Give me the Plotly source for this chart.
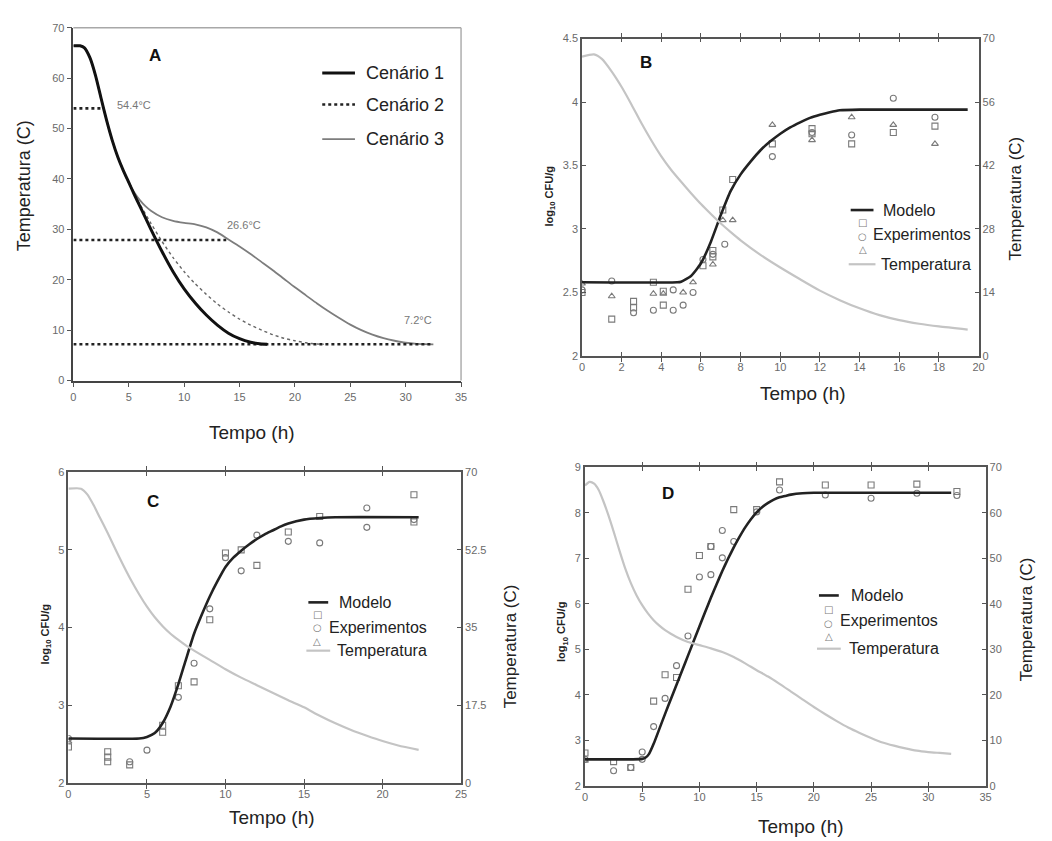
import plotly.graph_objects as go

W, H = 1052, 841


def px(x):
    return x / W


def py(y):
    return 1 - y / H


# ---------------- Panel A data ----------------
a_t1 = [0, 0.6, 1.0, 1.5, 2.0, 2.5, 3.0, 3.5, 4.0, 4.5, 5.0, 5.5, 6.0, 7.0, 8.0, 9.0,
        10.0, 11.0, 12.0, 13.0, 14.0, 15.0, 16.0, 17.0, 17.5]
a_c1 = [66.4, 66.4, 66.0, 64.0, 60.5, 56.0, 51.6, 47.7, 44.4, 41.7, 39.3, 36.9, 34.6,
        30.0, 25.6, 21.6, 18.2, 15.4, 13.0, 11.0, 9.4, 8.3, 7.6, 7.25, 7.2]

a_t3 = [0, 0.6, 1.0, 1.5, 2.0, 2.5, 3.0, 3.5, 4.0, 4.5, 5.0, 5.5, 6.0, 6.5, 7.0, 8.0,
        9.0, 10.0, 11.0, 12.0, 13.0, 14.0, 15.0, 16.0, 17.0, 18.0, 19.0, 20.0, 21.0,
        22.0, 23.0, 24.0, 25.0, 26.0, 27.0, 28.0, 29.0, 30.0, 31.0, 32.5]
a_c3 = [66.4, 66.4, 66.0, 64.0, 60.5, 56.0, 51.6, 47.7, 44.4, 41.7, 39.3, 37.3, 35.8,
        34.6, 33.7, 32.4, 31.7, 31.3, 31.0, 30.4, 29.4, 28.0, 26.6, 25.1, 23.5, 21.9,
        20.2, 18.5, 16.9, 15.3, 13.8, 12.4, 11.1, 10.0, 9.1, 8.4, 7.9, 7.5, 7.3, 7.2]

a_t2c = [5.3, 6.0, 7.0, 8.0, 9.0, 10.0, 11.0, 12.0, 13.0, 14.0, 15.0, 16.0, 17.0, 18.0,
         19.0, 20.0, 21.0, 22.0, 22.6]
a_c2c = [37.8, 35.0, 31.2, 27.6, 24.4, 21.6, 19.2, 17.1, 15.2, 13.6, 12.2, 11.0, 10.0,
         9.1, 8.4, 7.9, 7.5, 7.25, 7.2]

a_ref_t = [0, 2.7, None, 0, 13.8, None, 0, 32.5]
a_ref_c = [54.0, 54.0, None, 27.9, 27.9, None, 7.2, 7.2]

a_lbl_t = [5.5, 15.4, 31.1]
a_lbl_c = [54.7, 30.9, 12.1]
a_lbl_txt = ["54.4°C", "26.6°C", "7.2°C"]

# ---------------- Panel B data ----------------
b_tm = [0, 4.8, 5.0, 5.5, 6.0, 6.5, 7.0, 7.5, 8.0, 8.5, 9.0, 9.5, 10.0, 10.5, 11.0,
        11.5, 12.0, 12.5, 13.0, 14.0, 19.45]
b_m = [2.58, 2.58, 2.585, 2.63, 2.73, 2.90, 3.11, 3.30, 3.43, 3.53, 3.62, 3.69, 3.75,
       3.80, 3.84, 3.875, 3.90, 3.92, 3.935, 3.94, 3.94]
b_tt = [0, 0.6, 1.0, 1.5, 2.0, 2.5, 3.0, 3.5, 4.0, 4.5, 5.0, 5.5, 6.0, 6.5, 7.0, 7.5,
        8.0, 9.0, 10.0, 11.0, 12.0, 13.0, 14.0, 15.0, 16.0, 17.0, 18.0, 19.45]
b_temp = [66.0, 66.5, 65.5, 62.7, 59.3, 55.4, 51.3, 47.5, 44.0, 41.0, 38.4, 35.9, 33.5,
          31.3, 29.2, 27.3, 25.5, 22.3, 19.5, 16.9, 14.4, 12.3, 10.5, 9.0, 7.9, 7.1, 6.5,
          5.8]
b_sq_t = [0, 1.5, 2.6, 2.6, 3.6, 4.1, 4.1, 6.1, 6.6, 6.6, 7.1, 7.6, 9.6, 11.6, 11.6,
          13.6, 15.7, 17.8]
b_sq = [2.50, 2.29, 2.43, 2.38, 2.58, 2.51, 2.40, 2.71, 2.78, 2.83, 3.15, 3.39, 3.67,
        3.79, 3.75, 3.67, 3.76, 3.81]
b_ci_t = [0, 1.5, 2.6, 3.6, 4.6, 4.6, 5.1, 5.6, 6.1, 6.6, 7.2, 9.6, 11.6, 13.6, 15.7, 17.8]
b_ci = [2.52, 2.59, 2.34, 2.36, 2.52, 2.36, 2.40, 2.50, 2.76, 2.80, 2.88, 3.57, 3.76,
        3.74, 4.03, 3.88]
b_tr_t = [0, 1.5, 3.6, 4.1, 5.1, 5.6, 6.6, 7.1, 7.6, 9.6, 11.6, 13.6, 15.7, 17.8]
b_tr = [2.57, 2.47, 2.49, 2.49, 2.50, 2.58, 2.72, 3.07, 3.07, 3.82, 3.70, 3.88, 3.82, 3.67]

# ---------------- Panel C data ----------------
c_tm = [0, 4.5, 5.0, 5.5, 6.0, 6.5, 7.0, 7.5, 8.0, 8.5, 9.0, 9.5, 10.0, 10.5, 11.0,
        11.5, 12.0, 12.5, 13.0, 13.5, 14.0, 15.0, 16.0, 17.0, 22.3]
c_m = [2.57, 2.57, 2.59, 2.64, 2.77, 2.98, 3.27, 3.60, 3.92, 4.17, 4.40, 4.60, 4.78,
       4.90, 4.99, 5.07, 5.14, 5.20, 5.25, 5.30, 5.34, 5.39, 5.41, 5.42, 5.42]
c_tt = [0, 0.8, 1.2, 1.6, 2.0, 2.5, 3.0, 3.5, 4.0, 4.5, 5.0, 5.5, 6.0, 6.5, 7.0, 7.5,
        8.0, 9.0, 10.0, 11.0, 12.0, 13.0, 14.0, 15.0, 16.0, 17.0, 18.0, 19.0, 20.0, 21.0,
        22.3]
c_temp = [66.3, 66.3, 65.0, 62.6, 59.8, 56.3, 52.6, 49.0, 45.6, 42.5, 39.7, 37.3, 35.3,
          33.6, 32.2, 30.9, 29.8, 27.7, 25.6, 23.7, 22.0, 20.3, 18.6, 17.0, 15.1, 13.4,
          11.9, 10.6, 9.4, 8.4, 7.4]
c_sq_t = [0, 2.5, 2.5, 2.5, 3.9, 6.0, 6.0, 7.0, 8.0, 9.0, 10.0, 11.0, 12.0, 14.0, 16.0,
          22.0, 22.0]
c_sq = [2.46, 2.40, 2.33, 2.27, 2.23, 2.74, 2.65, 3.25, 3.30, 4.10, 4.96, 5.00, 4.80,
        5.23, 5.43, 5.71, 5.36]
c_ci_t = [0, 3.9, 5.0, 7.0, 8.0, 9.0, 10.0, 11.0, 12.0, 14.0, 16.0, 19.0, 19.0, 22.0]
c_ci = [2.57, 2.27, 2.42, 3.10, 3.54, 4.24, 4.90, 4.73, 5.19, 5.11, 5.09, 5.54, 5.29, 5.39]
c_tr_t = [0]
c_tr = [2.53]

# ---------------- Panel D data ----------------
d_tm = [0, 5.0, 5.3, 5.6, 6.0, 6.5, 7.0, 7.5, 8.0, 8.5, 9.0, 9.5, 10.0, 10.5, 11.0,
        11.5, 12.0, 12.5, 13.0, 13.5, 14.0, 14.5, 15.0, 15.5, 16.0, 16.5, 17.0, 17.5,
        18.0, 19.0, 20.0, 32.0]
d_m = [2.58, 2.59, 2.62, 2.70, 2.92, 3.25, 3.58, 3.90, 4.22, 4.54, 4.86, 5.18, 5.50,
       5.82, 6.13, 6.43, 6.72, 6.99, 7.24, 7.47, 7.68, 7.86, 8.01, 8.13, 8.22, 8.29, 8.34,
       8.37, 8.40, 8.43, 8.44, 8.44]
d_tt = [0, 0.4, 0.8, 1.2, 1.6, 2.0, 2.5, 3.0, 3.5, 4.0, 4.5, 5.0, 5.5, 6.0, 6.5, 7.0,
        7.5, 8.0, 9.0, 10.0, 11.0, 12.0, 13.0, 14.0, 15.0, 16.0, 17.0, 18.0, 19.0, 20.0,
        21.0, 22.0, 23.0, 24.0, 25.0, 26.0, 27.0, 28.0, 29.0, 30.0, 31.0, 32.0]
d_temp = [66.0, 66.8, 66.4, 65.0, 62.6, 59.8, 55.9, 51.8, 47.9, 44.6, 41.9, 39.7, 37.9,
          36.4, 35.2, 34.2, 33.4, 32.7, 31.6, 30.9, 30.2, 29.4, 28.3, 26.9, 25.4, 24.0,
          22.4, 20.7, 19.0, 17.3, 15.7, 14.2, 12.8, 11.6, 10.5, 9.5, 8.8, 8.2, 7.7, 7.4,
          7.2, 7.0]
d_sq_t = [0, 2.5, 4.0, 6.0, 7.0, 8.0, 9.0, 10.0, 11.0, 13.0, 15.0, 17.0, 21.0, 25.0,
          29.0, 32.5]
d_sq = [2.72, 2.53, 2.40, 3.86, 4.44, 4.38, 6.32, 7.06, 7.26, 8.07, 8.07, 8.68, 8.61,
        8.61, 8.63, 8.47]
d_ci_t = [0, 2.5, 4.0, 5.0, 5.0, 6.0, 7.0, 8.0, 9.0, 10.0, 11.0, 11.0, 12.0, 12.0, 13.0,
          15.0, 17.0, 21.0, 25.0, 29.0, 32.5]
d_ci = [2.58, 2.33, 2.40, 2.74, 2.58, 3.30, 3.92, 4.64, 5.29, 6.59, 6.64, 7.26, 7.61, 7.01,
        7.37, 8.02, 8.50, 8.39, 8.32, 8.43, 8.38]
d_tr_t = [0]
d_tr = [2.55]

# ---------------- styling ----------------
FONT = "Liberation Sans, Arial, sans-serif"
BLACK = "#111111"
MODEL_C = "#222222"
TEMP_C = "#c4c4c4"
MARK_C = "#7a7a7a"
TICK_C = "#6a6a6a"

fig = go.Figure()

# Panel A traces
fig.add_trace(go.Scatter(x=a_t3, y=a_c3, mode="lines", xaxis="x", yaxis="y",
                         line=dict(color="#7d7d7d", width=1.8, shape="spline", smoothing=0.6),
                         name="Cenário 3", showlegend=False))
fig.add_trace(go.Scatter(x=a_t2c, y=a_c2c, mode="lines", xaxis="x", yaxis="y",
                         line=dict(color="#666666", width=1.4, dash="dot", shape="spline",
                                   smoothing=0.6),
                         name="Cenário 2 curva", showlegend=False))
fig.add_trace(go.Scatter(x=a_ref_t, y=a_ref_c, mode="lines", xaxis="x", yaxis="y",
                         line=dict(color="#222222", width=2.6, dash="dot"),
                         name="Cenário 2", showlegend=False))
fig.add_trace(go.Scatter(x=a_t1, y=a_c1, mode="lines", xaxis="x", yaxis="y",
                         line=dict(color=BLACK, width=3, shape="spline", smoothing=0.6),
                         name="Cenário 1", showlegend=False))


def add_panel(xa, ya, ya_t, tm, m, tt, temp, sq_t, sq, ci_t, ci, tr_t, tr):
    fig.add_trace(go.Scatter(x=tt, y=temp, mode="lines", xaxis=xa, yaxis=ya_t,
                             line=dict(color=TEMP_C, width=2.2, shape="spline", smoothing=0.6),
                             name="Temperatura", showlegend=False))
    mk = dict(color=MARK_C, size=6, line=dict(color=MARK_C, width=1.1))
    fig.add_trace(go.Scatter(x=sq_t, y=sq, mode="markers", xaxis=xa, yaxis=ya,
                             marker=dict(symbol="square-open", **mk), showlegend=False,
                             name="Experimentos"))
    fig.add_trace(go.Scatter(x=ci_t, y=ci, mode="markers", xaxis=xa, yaxis=ya,
                             marker=dict(symbol="circle-open", **mk), showlegend=False,
                             name="Experimentos"))
    fig.add_trace(go.Scatter(x=tr_t, y=tr, mode="markers", xaxis=xa, yaxis=ya,
                             marker=dict(symbol="triangle-up-open", **mk), showlegend=False,
                             name="Experimentos"))
    fig.add_trace(go.Scatter(x=tm, y=m, mode="lines", xaxis=xa, yaxis=ya,
                             line=dict(color=MODEL_C, width=2.6, shape="spline", smoothing=0.5),
                             name="Modelo", showlegend=False))


add_panel("x2", "y2", "y5", b_tm, b_m, b_tt, b_temp, b_sq_t, b_sq, b_ci_t, b_ci, b_tr_t, b_tr)
add_panel("x3", "y3", "y6", c_tm, c_m, c_tt, c_temp, c_sq_t, c_sq, c_ci_t, c_ci, c_tr_t, c_tr)
add_panel("x4", "y4", "y7", d_tm, d_m, d_tt, d_temp, d_sq_t, d_sq, d_ci_t, d_ci, d_tr_t, d_tr)

tickfont = dict(family=FONT, size=11, color=TICK_C)
base_ax = dict(showgrid=False, zeroline=False, showline=True, linecolor="#555555",
               linewidth=1.6, tickfont=tickfont, tickcolor="#555555", fixedrange=True)

inner_x = dict(base_ax, ticks="inside", ticklen=4, mirror="allticks")
inner_y = dict(base_ax, ticks="inside", ticklen=4, mirror=True)
right_y = dict(base_ax, ticks="inside", ticklen=4, side="right")

fig.update_layout(
    width=W, height=H,
    margin=dict(l=0, r=0, t=0, b=0),
    paper_bgcolor="white", plot_bgcolor="white",
    font=dict(family=FONT, color="#222222"),
    showlegend=False,
    # Panel A
    xaxis=dict(base_ax, domain=[px(71), px(462)], range=[0, 35], tickvals=[0, 5, 10, 15, 20, 25, 30, 35],
               ticks="outside", ticklen=5, anchor="y", linecolor="#444444"),
    yaxis=dict(base_ax, domain=[py(380), py(22)], range=[0, 70],
               tickvals=[0, 10, 20, 30, 40, 50, 60, 70],
               ticks="outside", ticklen=5, anchor="x", linecolor="#444444"),
    # Panel B
    xaxis2=dict(inner_x, domain=[px(584), px(984)], range=[0, 20],
                tickvals=[0, 2, 4, 6, 8, 10, 12, 14, 16, 18, 20], anchor="y2"),
    yaxis2=dict(inner_y, domain=[py(355), py(33)], range=[2, 4.5],
                tickvals=[2, 2.5, 3, 3.5, 4, 4.5], ticktext=["2", "2.5", "3", "3.5", "4", "4.5"],
                anchor="x2"),
    yaxis5=dict(right_y, overlaying="y2", anchor="x2", range=[0, 70],
                tickvals=[0, 14, 28, 42, 56, 70]),
    # Panel C
    xaxis3=dict(inner_x, domain=[px(66), px(462)], range=[0, 25],
                tickvals=[0, 5, 10, 15, 20, 25], anchor="y3"),
    yaxis3=dict(inner_y, domain=[py(788), py(473)], range=[2, 6],
                tickvals=[2, 3, 4, 5, 6], anchor="x3"),
    yaxis6=dict(right_y, overlaying="y3", anchor="x3", range=[0, 70],
                tickvals=[0, 17.5, 35, 52.5, 70], ticktext=["0", "17.5", "35", "52.5", "70"]),
    # Panel D
    xaxis4=dict(inner_x, domain=[px(587), px(991)], range=[0, 35],
                tickvals=[0, 5, 10, 15, 20, 25, 30, 35], anchor="y4"),
    yaxis4=dict(inner_y, domain=[py(791), py(468)], range=[2, 9],
                tickvals=[2, 3, 4, 5, 6, 7, 8, 9], anchor="x4"),
    yaxis7=dict(right_y, overlaying="y4", anchor="x4", range=[0, 70],
                tickvals=[0, 10, 20, 30, 40, 50, 60, 70]),
)

shapes = []
annotations = []


def note(x, y, text, size, color="#222222", family=FONT, xanchor="center", angle=0,
         xref="paper", yref="paper"):
    annotations.append(dict(x=x, y=y, xref=xref, yref=yref, text=text, showarrow=False,
                            xanchor=xanchor, yanchor="middle", textangle=angle,
                            font=dict(family=family, size=size, color=color)))


# Panel A: light grey top/right frame
shapes.append(dict(type="line", xref="x domain", yref="y domain", x0=0, x1=1, y0=1, y1=1,
                   line=dict(color="#a8a8a8", width=1.4)))
shapes.append(dict(type="line", xref="x domain", yref="y domain", x0=1, x1=1, y0=0, y1=1,
                   line=dict(color="#a8a8a8", width=1.4)))

# Panel A labels on the curves
for t, c, s in zip(a_lbl_t, a_lbl_c, a_lbl_txt):
    note(t, c, s, 11, color="#777777", xref="x", yref="y")

# Panel A legend
leg_a = [("Cenário 1", 68, dict(color=BLACK, width=3)),
         ("Cenário 2", 100, dict(color="#222222", width=2.6, dash="dot")),
         ("Cenário 3", 135, dict(color="#7d7d7d", width=1.8))]
for name, yy, ln in leg_a:
    shapes.append(dict(type="line", xref="paper", yref="paper", x0=px(322), x1=px(355),
                       y0=py(yy), y1=py(yy), line=ln))
    note(px(364), py(yy), name, 18, xanchor="left")

# Panel letters
for letter, lx, ly in [("A", 153, 50), ("B", 649, 57), ("C", 151, 503), ("D", 671, 495)]:
    note(px(lx), py(ly), "<b>%s</b>" % letter, 17, color="#111111")


# Legends for B, C, D
def legend(x_line0, x_line1, y_mod, y_marks, x_mark, y_exp, x_exp, y_temp, x_text):
    shapes.append(dict(type="line", xref="paper", yref="paper", x0=px(x_line0), x1=px(x_line1),
                       y0=py(y_mod), y1=py(y_mod), line=dict(color=MODEL_C, width=2.6)))
    shapes.append(dict(type="line", xref="paper", yref="paper", x0=px(x_line0 - 2),
                       x1=px(x_line1 + 2), y0=py(y_temp), y1=py(y_temp),
                       line=dict(color=TEMP_C, width=2.2)))
    note(px(x_text), py(y_mod), "Modelo", 16, xanchor="left")
    note(px(x_exp), py(y_exp), "Experimentos", 16, xanchor="left")
    note(px(x_text - 2), py(y_temp), "Temperatura", 16, xanchor="left")
    for sym, yy in zip(["□", "○", "△"], y_marks):
        note(px(x_mark), py(yy), sym, 10, color=MARK_C, family="DejaVu Sans")


legend(855, 878, 207, [220, 234, 247], 867, 232, 875, 262, 886)
legend(308, 328, 605, [617, 631, 645], 317, 630, 327, 654, 337)
legend(823, 843, 598, [612, 626, 640], 833, 623, 842, 652, 853)

# Axis titles
for xx, yy in [(251, 433), (807, 393), (271, 823), (805, 832)]:
    note(px(xx), py(yy), "Tempo (h)", 19)
for xx, yy, sz in [(22, 182, 18), (1021, 195, 17), (512, 650, 17), (1032, 622, 17)]:
    note(px(xx), py(yy), "Temperatura (C)", sz, angle=-90)
for xx, yy in [(552, 193), (43, 637), (564, 635)]:
    note(px(xx), py(yy), "<b>log<sub>10</sub> CFU/g</b>", 11, angle=-90)

fig.update_layout(shapes=shapes, annotations=annotations)

fig.write_html("out.html")
